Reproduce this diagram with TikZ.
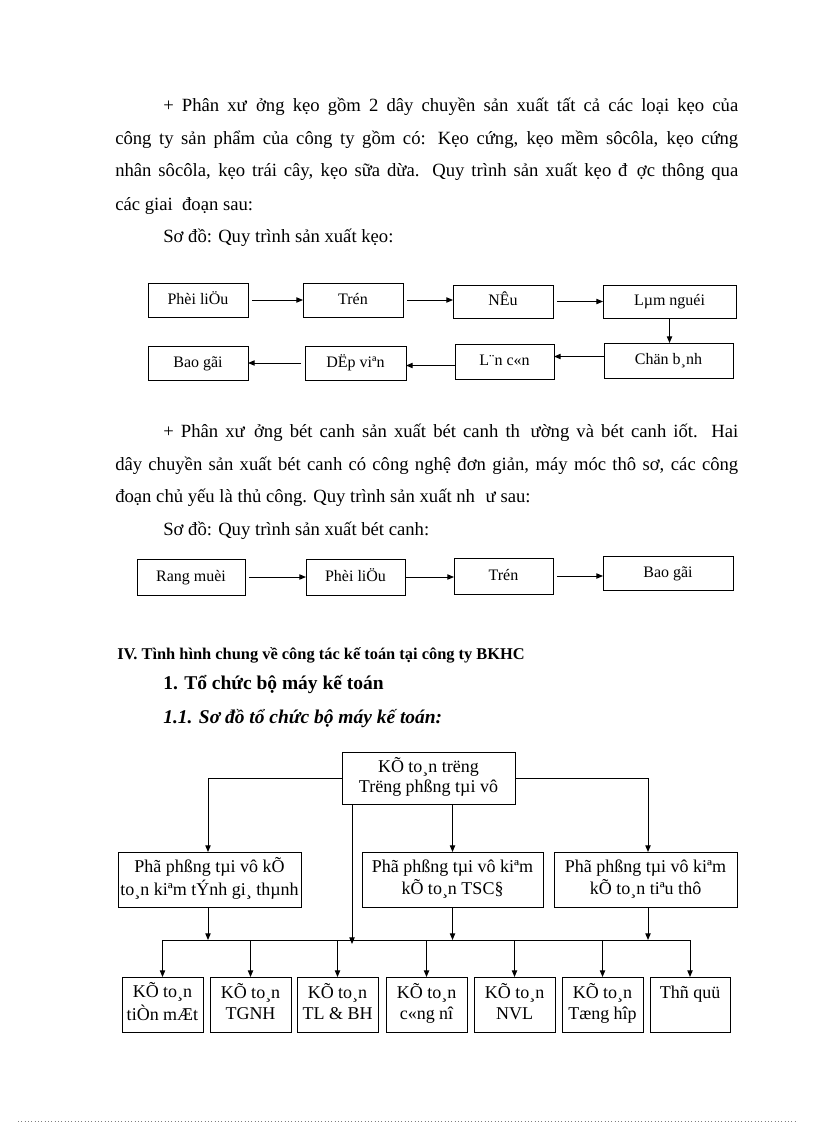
\documentclass[tikz,border=0pt]{standalone}
\usepackage{fontspec}
\setmainfont{Liberation Serif}
\usetikzlibrary{arrows.meta}
\newcommand\mybox[6]{\node[box,minimum width={(#4-#2)*0.75pt},minimum height={(#5-#3)*0.75pt}] (#1) at ({(#2+#4)/2},{(#3+#5)/2}) {#6};}
\newcommand\bodyfont{\fontsize{14}{16}\selectfont}
\newcommand\mystr{\strut}
\begin{document}
\begin{tikzpicture}[x=0.75pt,y=-0.75pt,
  box/.style={draw,line width=0.75pt,inner sep=0pt,outer sep=0pt,align=center,font=\fontsize{12}{15}\selectfont},
  arr/.style={line width=0.75pt,-{Triangle[length=5pt,width=4pt]}},
  ln/.style={line width=0.75pt},
  txt/.style={anchor=base west,inner sep=0pt,font=\bodyfont}]
\useasboundingbox (0,0) rectangle (816,1123);
% paragraph 1
\node[txt] (p1a) at (163,112) {\hbox to 431.25pt{+ Phân xư\kern7pt ởng kẹo gồm 2 dây chuyền sản xuất tất cả các loại kẹo của}};
\node[txt] (p1b) at (115,145) {\hbox to 467.25pt{công ty sản phẩm của công ty gồm có: Kẹo cứng, kẹo mềm sôcôla, kẹo cứng}};
\node[txt] (p1c) at (115,177) {\hbox to 467.25pt{nhân sôcôla, kẹo trái cây, kẹo sữa dừa. Quy trình sản xuất kẹo đ\kern7pt ợc thông qua}};
\node[txt] (p1d) at (115,210) {các giai\kern7pt đoạn sau:};
\node[txt] (p1e) at (163,243) {Sơ đồ: Quy trình sản xuất kẹo:};
% diagram 1
\mybox{a1}{148}{283}{248}{317}{\mystr Phèi liÖu}
\mybox{a2}{303}{283}{403}{317}{\mystr Trén}
\mybox{a3}{453}{285}{553}{318}{\mystr NÊu}
\mybox{a4}{603}{285}{736}{318}{\mystr Lµm nguéi}
\mybox{a5}{604}{343}{733}{378}{\mystr Chän b¸nh}
\mybox{a6}{455}{344}{554}{379}{\mystr L¨n c«n}
\mybox{a7}{305}{346}{406}{380}{\mystr DËp viªn}
\mybox{a8}{148}{346}{248}{380}{\mystr Bao gãi}
\draw[arr,shorten <=3pt] (a1.east) -- (a1.east -| a2.west);
\draw[arr,shorten <=3pt] (a2.east) -- (a2.east -| a3.west);
\draw[arr,shorten <=3pt] (a3.east) -- (a3.east -| a4.west);
\draw[arr] (a4) -- (a4 |- a5.north);
\draw[arr] ([yshift=3pt]a5.west) -- ([yshift=3pt]a5.west -| a6.east);
\draw[arr] ([yshift=-3pt]a6.west) -- ([yshift=-3pt]a6.west -| a7.east);
\draw[arr,shorten <=3pt] (a7.west) -- (a7.west -| a8.east);
% paragraph 2
\node[txt] (p2a) at (163,437) {\hbox to 431.25pt{+ Phân xư\kern7pt ởng bét canh sản xuất bét canh th\kern8pt ường và bét canh iốt. Hai}};
\node[txt] (p2b) at (115,470) {\hbox to 467.25pt{dây chuyền sản xuất bét canh có công nghệ đơn giản, máy móc thô sơ, các công}};
\node[txt] (p2c) at (115,502) {đoạn chủ yếu là thủ công. Quy trình sản xuất nh\kern8pt ư sau:};
\node[txt] (p2d) at (163,535) {Sơ đồ: Quy trình sản xuất bét canh:};
% diagram 2
\mybox{b1}{137}{559}{245}{595}{\mystr Rang muèi}
\mybox{b2}{306}{559}{405}{595}{\mystr Phèi liÖu}
\mybox{b3}{454}{558}{553}{594}{\mystr Trén}
\mybox{b4}{603}{556}{733}{590}{\mystr Bao gãi}
\draw[arr,shorten <=3pt] (b1.east) -- (b1.east -| b2.west);
\draw[arr] (b2.east) -- (b2.east -| b3.west);
\draw[arr,shorten <=3pt] (b3.east) -- (b3.east -| b4.west);
% headings
\node[txt,font=\fontsize{12.3}{14}\selectfont\bfseries] (h1) at (117,659) {IV. Tình hình chung về công tác kế toán tại công ty BKHC};
\node[txt,font=\fontsize{14.6}{16}\selectfont\bfseries] (h2) at (163,689) {1. Tổ chức bộ máy kế toán};
\node[txt,font=\fontsize{14.6}{16}\selectfont\bfseries\itshape] (h3) at (163,723) {1.1. Sơ đồ tổ chức bộ máy kế toán:};
% org chart
\tikzset{box/.append style={font=\fontsize{13.5}{15.5}\selectfont}}
\mybox{t}{342}{752}{515}{804}{\mystr KÕ to¸n trëng\\\mystr Trëng phßng tµi vô}
\mybox{m1}{118}{852}{301}{907}{\mystr Phã phßng tµi vô kÕ\\\mystr to¸n kiªm tÝnh gi¸ thµnh}
\mybox{m2}{362}{852}{543}{907}{\mystr Phã phßng tµi vô kiªm\\\mystr kÕ to¸n TSC§}
\mybox{m3}{554}{852}{737}{907}{\mystr Phã phßng tµi vô kiªm\\\mystr kÕ to¸n tiªu thô}
\coordinate (cl) at (208,852);
\coordinate (cr) at (648,852);
\draw[arr] (t.west) -| (cl);
\draw[arr] (t.east) -| (cr);
\draw[arr] (t.south -| m2.north) -- (m2.north);
\mybox{k1}{122}{977}{203}{1032}{\mystr KÕ to¸n\\\mystr tiÒn mÆt}
\mybox{k2}{210}{977}{291}{1032}{\mystr KÕ to¸n\\\mystr TGNH}
\mybox{k3}{297}{977}{378}{1032}{\mystr KÕ to¸n\\\mystr TL \& BH}
\mybox{k4}{386}{977}{467}{1032}{\mystr KÕ to¸n\\\mystr c«ng nî}
\mybox{k5}{474}{977}{555}{1032}{\mystr KÕ to¸n\\\mystr NVL}
\mybox{k6}{562}{977}{643}{1032}{\mystr KÕ to¸n\\\mystr Tæng hîp}
\mybox{k7}{650}{977}{730}{1032}{\mystr Thñ quü\\\mystr}
\coordinate (busl) at (163,940);
\coordinate (busr) at (690,940);
\draw[ln] (busl) -- (busr);
\coordinate (x0) at (352,804);
\coordinate (x1) at (352,944);
\draw[arr] (x0) -- (x1);
\draw[arr] (m1.south -| cl) -- (cl |- busl);
\draw[arr] (m2.south) -- (m2.south |- busl);
\draw[arr] (m3.south -| cr) -- (cr |- busl);
\foreach \k in {k1,k2,k3,k4,k5,k6,k7}{\draw[arr] (\k.north |- busl) -- (\k.north);}
% footer dots
\draw[line width=0.5pt,dotted,gray] (18,1121) -- (795,1121);
\end{tikzpicture}
\end{document}
